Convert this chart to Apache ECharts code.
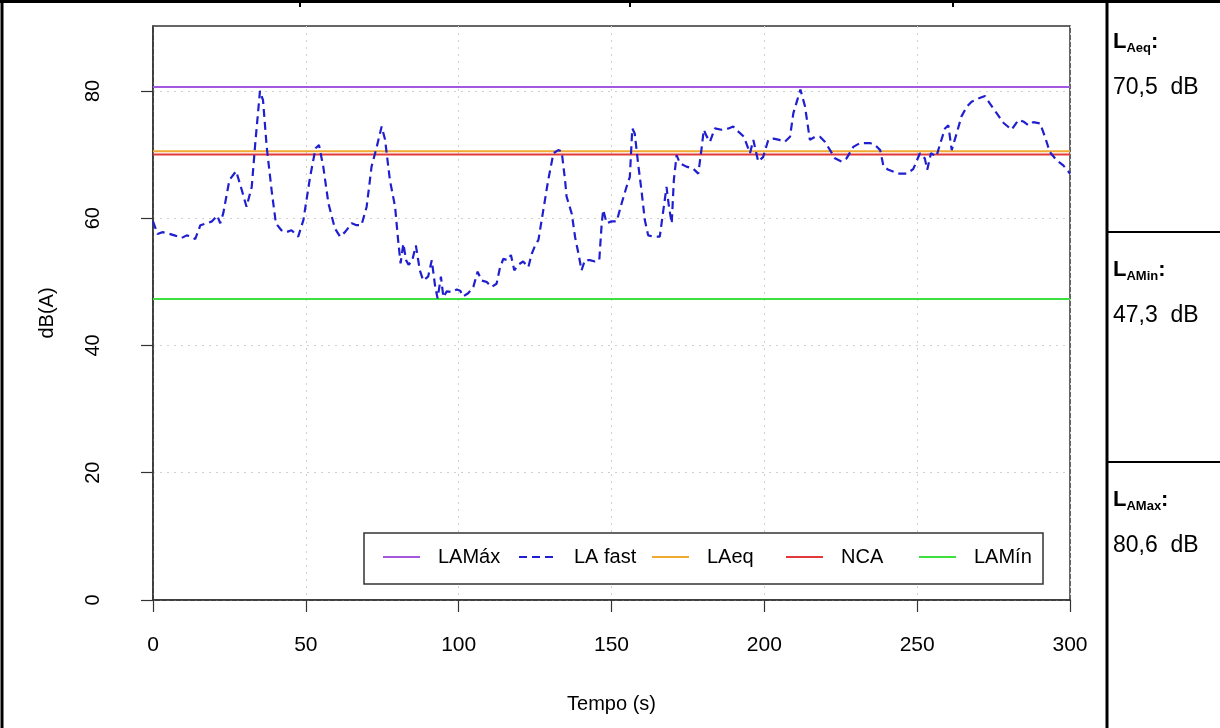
<!DOCTYPE html>
<html>
<head>
<meta charset="utf-8">
<title>LA fast</title>
<script src="https://cdn.jsdelivr.net/npm/echarts@6/dist/echarts.min.js"></script>
<style>
html, body {
  margin: 0;
  padding: 0;
  background: #fff;
}

#chart {
  width: 1220px;
  height: 728px;
}
</style>
</head>
<body>
<div id="chart"></div>

<script>
// tempo (s) de cada leitura
const times = [
  0, 1.5, 3, 5, 7, 9.4, 11, 12.5, 13.8, 15.5, 17.6, 19.3, 21, 22, 23, 25, 27.2, 29, 30.6, 32.3,
  33.5, 35, 36, 37.2, 38.8, 40.2, 42, 43.6, 45.3, 47.5, 49.2, 51.4, 53.2, 54.3, 55.7, 57.4, 59.5, 61.2, 62.8, 65,
  66.6, 68.2, 69.9, 71.5, 73.2, 74.8, 75.9, 77.5, 79.2, 80.2, 81, 81.9, 82.8, 83.6, 84.7, 86, 87.3, 88.4, 90, 91.2,
  92.3, 93.1, 94.2, 95, 96.1, 97.7, 99.4, 100.5, 101.5, 103.1, 104.8, 106.2, 107.5, 109.1, 110.8, 112.4, 113.5, 114.6, 116, 117.1,
  118.2, 119.5, 121.1, 122.8, 123.9, 125, 126.1, 127.7, 129.3, 131, 132.6, 133.7, 134.8, 135.3, 137, 138.1, 139.2, 140.2, 141.3, 142.9,
  144.6, 146, 146.8, 147.3, 148.4, 150, 151.7, 153.3, 154.9, 156, 156.8, 157.6, 158.7, 159.8, 160.9, 162, 163.6, 165.8, 166.8, 168,
  168.8, 169.7, 170.4, 171.3, 172.4, 174.5, 176.7, 178.4, 179.4, 180.2, 181.1, 182.2, 183.8, 186, 188.3, 189.8, 191.5, 193.3, 195.3, 196.4,
  198, 199.6, 201.3, 203, 204.9, 206.7, 208.4, 209.5, 210.8, 211.8, 213.3, 214.9, 216.6, 218.2, 219.8, 221.5, 223.1, 225.3, 226.9, 229.1,
  231.3, 232.9, 234.6, 236.2, 237.9, 239, 240.6, 242.3, 243.8, 246.5, 248.7, 250.9, 252.5, 253.3, 254.5, 256.3, 257.4, 259.1, 260.2, 261.3,
  262.9, 264.5, 266.2, 267.8, 270, 272.2, 273.8, 276, 278.2, 280.9, 283.1, 284.7, 286.4, 288, 290.2, 291.8, 293.4, 295.6, 297.8, 300
];

// LA fast, dB(A)
const laFast = [
  59.5, 57.5, 57.8, 57.6, 57.3, 56.9, 57.3, 57.1, 56.7, 58.9, 59.2, 59.5, 60.4, 59.2, 60.8, 66.0, 67.4, 64.5, 61.8, 64.9,
  72.0, 80.0, 78.5, 71.2, 64.4, 59.2, 58.1, 57.8, 58.1, 57.1, 59.7, 66.5, 71.0, 71.5, 68.1, 62.3, 58.4, 57.1, 57.8, 59.2,
  58.9, 58.9, 61.8, 68.1, 71.2, 74.4, 72.4, 66.0, 61.8, 56.5, 52.9, 56.0, 53.4, 52.7, 53.2, 55.7, 51.8, 50.2, 50.8, 53.4,
  49.3, 47.4, 50.8, 47.6, 48.5, 48.4, 48.8, 48.6, 47.7, 48.2, 49.2, 51.6, 50.2, 50.0, 49.2, 49.7, 52.2, 53.6, 53.4, 54.2,
  51.8, 52.7, 53.2, 52.3, 54.4, 55.7, 56.6, 61.3, 66.0, 70.2, 70.7, 70.5, 66.0, 63.4, 60.7, 57.0, 54.4, 51.8, 53.4, 53.4,
  53.2, 53.4, 59.2, 61.3, 59.2, 59.5, 59.5, 62.3, 64.9, 66.5, 74.1, 73.3, 68.6, 64.4, 59.7, 57.3, 57.1, 57.1, 60.7, 64.9,
  61.8, 59.2, 66.0, 69.9, 68.6, 68.1, 67.8, 67.0, 70.7, 73.9, 72.9, 72.0, 74.1, 73.9, 74.1, 74.4, 73.6, 72.8, 70.2, 72.3,
  68.9, 69.6, 72.3, 72.5, 72.3, 72.0, 72.8, 76.5, 78.6, 80.2, 77.6, 72.3, 72.8, 72.8, 72.0, 70.7, 69.4, 68.9, 69.4, 71.2,
  71.8, 71.8, 71.8, 71.5, 70.7, 68.1, 67.6, 67.3, 67.0, 67.0, 67.7, 70.2, 69.4, 67.6, 70.2, 69.7, 71.5, 74.1, 74.6, 70.7,
  73.3, 76.0, 77.5, 78.3, 78.8, 79.2, 78.0, 76.5, 75.0, 73.9, 75.4, 75.2, 74.6, 75.1, 74.9, 72.8, 70.4, 69.1, 68.3, 67.0
];

const laMax = 80.6;
const laEq = 70.5;
const nca = 70;
const laMin = 47.3;

const xTicks = [0, 50, 100, 150, 200, 250, 300];
const yTicks = [0, 20, 40, 60, 80];

const legendNames = ["LAMáx", "LA fast", "LAeq", "NCA", "LAMín"];
const legendLeft = [382, 518, 651, 785, 918];

const fontFamily = "'Liberation Sans', Arial, sans-serif";

const laFastData = times.map((t, i) => [t, laFast[i]]);
const flat = v => [[0, v], [300, v]];

// uma legenda por item, para espaçar como no R
const legends = legendNames.map((name, i) => ({
  data: [name],
  left: legendLeft[i],
  top: 547,
  padding: 0,
  z: 20,
  itemWidth: 37,
  itemHeight: 14,
  itemStyle: { opacity: 0 },
  textStyle: {
    fontFamily: fontFamily,
    fontSize: 20,
    color: "#000",
    padding: [0, 0, 0, 13]
  }
}));

const panelLabel = (sub, y) => ({
  type: "text",
  left: 1113,
  top: y,
  style: {
    text: "{b|L}{s|" + sub + "}{b|:}",
    rich: {
      b: { fontSize: 22, fontWeight: "bold", fontFamily: fontFamily, lineHeight: 26, fill: "#000" },
      s: { fontSize: 13, fontWeight: "bold", fontFamily: fontFamily, lineHeight: 13, verticalAlign: "bottom", fill: "#000" }
    }
  }
});

const panelValue = (v, y) => ({
  type: "text",
  left: 1113,
  top: y,
  style: {
    text: v.toFixed(1).replace(".", ",") + "  dB",
    fontSize: 23,
    fontFamily: fontFamily,
    fill: "#000"
  }
});

const frameLine = (x1, y1, x2, y2, w) => ({
  type: "line",
  shape: { x1: x1, y1: y1, x2: x2, y2: y2 },
  style: { stroke: "#000", lineWidth: w }
});

const chart = echarts.init(document.getElementById("chart"));

chart.setOption({
  animation: false,
  backgroundColor: "#fff",
  grid: {
    left: 153,
    right: 150,
    top: 26,
    bottom: 128,
    show: true,
    borderColor: "#333",
    borderWidth: 1.5
  },
  legend: legends,
  xAxis: {
    type: "value",
    min: 0,
    max: 300,
    interval: 50,
    name: "Tempo (s)",
    nameLocation: "middle",
    nameGap: 94,
    nameTextStyle: { fontFamily: fontFamily, fontSize: 20, color: "#000" },
    axisLine: { onZero: false, lineStyle: { color: "#333", width: 1.5 } },
    axisTick: { show: true, length: 12, customValues: xTicks, lineStyle: { color: "#333", width: 1.2 } },
    axisLabel: { customValues: xTicks, margin: 35, fontFamily: fontFamily, fontSize: 21, color: "#000" },
    splitLine: { show: true, lineStyle: { type: [2, 5], color: "#d0d0d0", width: 1 } }
  },
  yAxis: {
    type: "value",
    min: 0,
    max: 90.2,
    interval: 20,
    name: "dB(A)",
    nameLocation: "middle",
    nameRotate: 90,
    nameGap: 96,
    nameTextStyle: { fontFamily: fontFamily, fontSize: 20, color: "#000" },
    axisLine: { show: true, onZero: false, lineStyle: { color: "#333", width: 1.5 } },
    axisTick: { show: true, length: 12, customValues: yTicks, lineStyle: { color: "#333", width: 1.2 } },
    axisLabel: { customValues: yTicks, rotate: 90, margin: 50, fontFamily: fontFamily, fontSize: 20, color: "#000" },
    splitLine: { show: true, lineStyle: { type: [2, 5], color: "#d0d0d0", width: 1 } }
  },
  series: [
    {
      name: "LAMáx",
      type: "line",
      data: flat(laMax),
      symbol: "none",
      lineStyle: { color: "#a259e0", width: 2 },
      itemStyle: { color: "#a259e0" },
      z: 3
    },
    {
      name: "LA fast",
      type: "line",
      data: laFastData,
      symbol: "none",
      lineStyle: { color: "#1f1fd0", width: 2.2, type: [8, 5] },
      itemStyle: { color: "#1f1fd0" },
      z: 5
    },
    {
      name: "LAeq",
      type: "line",
      data: flat(laEq),
      symbol: "none",
      lineStyle: { color: "#f0aa30", width: 2 },
      itemStyle: { color: "#f0aa30" },
      z: 3
    },
    {
      name: "NCA",
      type: "line",
      data: flat(nca),
      symbol: "none",
      lineStyle: { color: "#e23a3a", width: 2 },
      itemStyle: { color: "#e23a3a" },
      z: 4
    },
    {
      name: "LAMín",
      type: "line",
      data: flat(laMin),
      symbol: "none",
      lineStyle: { color: "#3ee03e", width: 2 },
      itemStyle: { color: "#3ee03e" },
      z: 3
    }
  ],
  graphic: [
    // moldura da legenda
    {
      type: "rect",
      shape: { x: 364, y: 533, width: 679, height: 51 },
      style: { fill: "#fff", stroke: "#333", lineWidth: 1.5 },
      z: 10
    },
    frameLine(0, 1.5, 1220, 1.5, 3),
    frameLine(2, 0, 2, 728, 3),
    frameLine(1107, 0, 1107, 728, 3),
    frameLine(1107, 232, 1220, 232, 2),
    frameLine(1107, 462, 1220, 462, 2),
    frameLine(300, 0, 300, 7, 2),
    frameLine(630, 0, 630, 7, 2),
    frameLine(953, 0, 953, 7, 2),
    panelLabel("Aeq", 31),
    panelValue(laEq, 76),
    panelLabel("AMin", 259),
    panelValue(laMin, 304),
    panelLabel("AMax", 489),
    panelValue(laMax, 534)
  ]
});
</script>
</body>
</html>
